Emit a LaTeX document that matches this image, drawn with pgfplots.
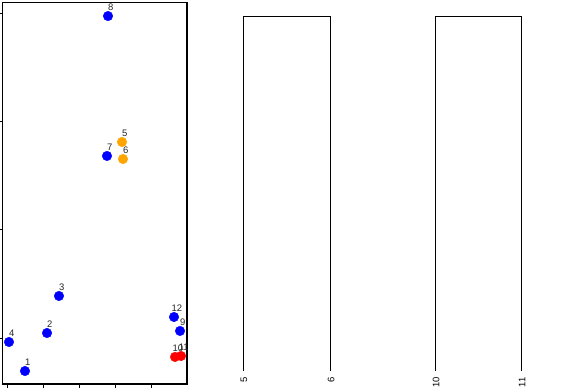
\documentclass[border=0pt]{standalone}
\usepackage{pgfplots}
\pgfplotsset{compat=1.18}
\usepackage{fontspec}
\setmainfont{Liberation Sans}
\definecolor{ptorange}{RGB}{255,165,0}
\begin{document}
\begin{tikzpicture}[x=1bp,y=1bp]
\path[use as bounding box] (0,0) rectangle (574,-388);
\begin{axis}[at={(2.5bp,-2.5bp)}, anchor=north west,
  width=184.5bp, height=381.5bp, scale only axis,
  xmin=-0.124, xmax=4.972, ymin=-0.425, ymax=3.098,
  xtick={0,1,2,3,4}, ytick={0,1,2,3},
  xticklabels={}, yticklabels={},
  tick align=outside, major tick length=4bp,
  xtick pos=bottom, ytick pos=left,
  tick style={black, line width=0.9bp},
  axis line style={line width=1.1bp},
  clip=false,
  every node near coord/.style={font=\fontsize{9.5}{11}\selectfont, text=black!85, anchor=base, xshift=2.8bp, yshift=5.5bp, inner sep=0pt},
  nodes near coords, point meta=explicit symbolic]
\addplot[only marks, mark=*, mark size=4.8pt, color=blue] table[meta=label] {
x y label
0.497 -0.305 1
1.105 0.046 2
1.436 0.388 3
0.055 -0.037 4
2.762 1.681 7
2.790 2.973 8
4.779 0.065 9
4.613 0.194 12
};
\addplot[only marks, mark=*, mark size=4.8pt, color=ptorange] table[meta=label] {
x y label
3.177 1.810 5
3.204 1.653 6
};
\addplot[only marks, mark=*, mark size=4.8pt, color=red] table[meta=label] {
x y label
4.641 -0.175 10
4.807 -0.166 11
};
\end{axis}
\begin{axis}[at={(0,0)}, anchor=north west,
  width=574bp, height=377bp, scale only axis,
  xmin=0, xmax=574, ymin=-377, ymax=0,
  axis line style={draw=none}, tick style={draw=none},
  ytick=\empty, xtick pos=bottom,
  xtick={244,331,436,522}, xticklabels={5,6,10,11},
  xticklabel style={rotate=90, anchor=east, font=\fontsize{9.5}{11}\selectfont, inner sep=0pt},
  clip=false]
\addplot[black, line width=1bp] coordinates {(243,-371) (243,-16) (330,-16) (330,-371)};
\addplot[black, line width=1bp] coordinates {(435,-371) (435,-16) (521,-16) (521,-371)};
\end{axis}
\end{tikzpicture}
\end{document}
